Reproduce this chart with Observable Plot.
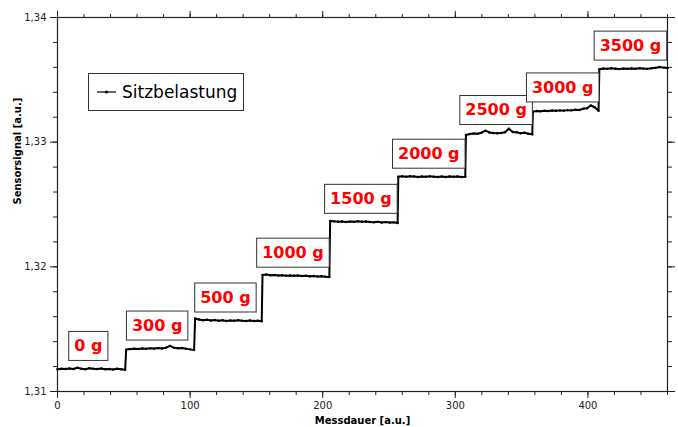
<!DOCTYPE html>
<html><head><meta charset="utf-8">
<script src="https://cdn.jsdelivr.net/npm/d3@7"></script>
<script src="https://cdn.jsdelivr.net/npm/@observablehq/plot@0.6"></script>
<style>
body{margin:0;background:#fff;}
#chart{position:relative;width:678px;height:427px;overflow:hidden;}
</style>
</head><body><div id="chart"></div>
<script>
// ---- data ----
const loads = ["0 g", "300 g", "500 g", "1000 g", "1500 g", "2000 g", "2500 g", "3000 g", "3500 g"];
const segStart = [0, 51.8, 103.8, 154.6, 205.6, 257, 308, 358.5, 408.6];
const segEnd   = [51, 103, 154, 205, 256.5, 307.5, 358, 408, 460];
const seg0g    = [1.31178, 1.31182, 1.31180, 1.31185, 1.31181, 1.31190, 1.31183, 1.31179, 1.31186, 1.31182, 1.31180, 1.31184, 1.31178, 1.31181, 1.31176, 1.31183, 1.31179, 1.31174];
const seg300g  = [1.31336, 1.31340, 1.31343, 1.31341, 1.31345, 1.31342, 1.31346, 1.31344, 1.31348, 1.31345, 1.31352, 1.31366, 1.31350, 1.31347, 1.31349, 1.31343, 1.31338, 1.31332];
const seg500g  = [1.31585, 1.31578, 1.31572, 1.31575, 1.31570, 1.31573, 1.31568, 1.31571, 1.31566, 1.31570, 1.31567, 1.31572, 1.31568, 1.31565, 1.31569, 1.31566, 1.31568, 1.31563];
const seg1000g = [1.31935, 1.31938, 1.31932, 1.31934, 1.31930, 1.31933, 1.31929, 1.31931, 1.31928, 1.31930, 1.31926, 1.31929, 1.31924, 1.31927, 1.31922, 1.31925, 1.31920, 1.31918];
const seg1500g = [1.32368, 1.32365, 1.32362, 1.32364, 1.32360, 1.32363, 1.32361, 1.32365, 1.32362, 1.32364, 1.32360, 1.32358, 1.32361, 1.32356, 1.32359, 1.32355, 1.32357, 1.32352];
const seg2000g = [1.32722, 1.32726, 1.32723, 1.32727, 1.32724, 1.32721, 1.32725, 1.32722, 1.32726, 1.32723, 1.32720, 1.32724, 1.32721, 1.32725, 1.32722, 1.32724, 1.32720, 1.32723];
const seg2500g = [1.33058, 1.33065, 1.33070, 1.33068, 1.33076, 1.33092, 1.33078, 1.33074, 1.33071, 1.33073, 1.33080, 1.33108, 1.33082, 1.33079, 1.33072, 1.33076, 1.33068, 1.33064];
const seg3000g = [1.33245, 1.33250, 1.33248, 1.33252, 1.33250, 1.33254, 1.33252, 1.33255, 1.33253, 1.33257, 1.33255, 1.33260, 1.33258, 1.33268, 1.33272, 1.33294, 1.33280, 1.33252];
const seg3500g = [1.33585, 1.33590, 1.33588, 1.33592, 1.33589, 1.33586, 1.33590, 1.33588, 1.33591, 1.33589, 1.33593, 1.33590, 1.33588, 1.33592, 1.33596, 1.33603, 1.33598, 1.33594];
const segments = [seg0g, seg300g, seg500g, seg1000g, seg1500g, seg2000g, seg2500g, seg3000g, seg3500g];
const xTicks = [0, 100, 200, 300, 400];
const xMinor = [0,20,40,60,80,100,120,140,160,180,200,220,240,260,280,300,320,340,360,380,400,420,440,460];
const yTicks = [1.31, 1.32, 1.33, 1.34];
const yMinor = [1.31,1.312,1.314,1.316,1.318,1.32,1.322,1.324,1.326,1.328,1.33,1.332,1.334,1.336,1.338,1.34];
const seriesName = "Sitzbelastung";
const xLabel = "Messdauer [a.u.]";
const yLabel = "Sensorsignal [a.u.]";

// ---- build table ----
const points = segments.flatMap((vals, s) => vals.map((v, i) => ({
  t: segStart[s] + i * (segEnd[s] - segStart[s]) / (vals.length - 1), v
})));
const labels = loads.map((name, s) => ({name, t: (segStart[s] + segEnd[s]) / 2, v: d3.median(segments[s])}));
const fmt = d => d.toFixed(2).replace(".", ",");
const ink = "#222";
const labelRed = "#ff0000";
const NS = "http://www.w3.org/2000/svg";
const LDX = -3, LDY = -23;

// measure label widths with a canvas (no DOM needed)
const ctx = document.createElement("canvas").getContext("2d");
ctx.font = "bold 16px 'DejaVu Sans'";
let boxesDrawn = 0;
function addBox(x, y, w) {
  const r = document.createElementNS(NS, "rect");
  r.setAttribute("x", x - w / 2 - 5.5);
  r.setAttribute("y", y - 14.5);
  r.setAttribute("width", w + 11);
  r.setAttribute("height", 29);
  r.setAttribute("fill", "#fff");
  r.setAttribute("stroke", "#333");
  r.setAttribute("stroke-width", 1);
  return r;
}

const plot = Plot.plot({
  width: 678, height: 427,
  marginLeft: 57, marginRight: 11, marginTop: 17, marginBottom: 36,
  style: {fontFamily: "DejaVu Sans", fontSize: "10px", color: ink, background: "#fff", overflow: "hidden"},
  x: {domain: [0, 460], label: null},
  y: {domain: [1.31, 1.34], label: null},
  marks: [
    Plot.axisX(xMinor, {anchor: "bottom", tickSize: 4, tickFormat: () => "", label: null, stroke: ink}),
    Plot.axisX(xTicks, {anchor: "bottom", tickSize: 7, tickPadding: 3, tickFormat: d => String(d), label: null, stroke: ink}),
    Plot.axisX(xMinor, {anchor: "top", tickSize: 4, tickFormat: () => "", label: null, stroke: ink}),
    Plot.axisX(xTicks, {anchor: "top", tickSize: 7, tickFormat: () => "", label: null, stroke: ink}),
    Plot.axisY(yMinor, {anchor: "left", tickSize: 4, tickFormat: () => "", label: null, stroke: ink}),
    Plot.axisY(yTicks, {anchor: "left", tickSize: 7, tickPadding: 4, tickFormat: fmt, label: null, stroke: ink}),
    Plot.axisY(yMinor, {anchor: "right", tickSize: 4, tickFormat: () => "", label: null, stroke: ink}),
    Plot.axisY(yTicks, {anchor: "right", tickSize: 7, tickFormat: () => "", label: null, stroke: ink}),
    Plot.frame({stroke: ink, strokeWidth: 1.2}),
    Plot.line(points, {x: "t", y: "v", stroke: "#000", strokeWidth: 2}),
    Plot.dot(points, {x: "t", y: "v", r: 1.2, fill: "#000", stroke: null}),
    Plot.text(labels, {
      x: "t", y: "v", text: "name", dx: LDX, dy: LDY, fill: labelRed, fontWeight: "bold", fontSize: 16,
      render(index, scales, values, dimensions, context, next) {
        const g = next(index, scales, values, dimensions, context);
        const texts = g.querySelectorAll("text");
        Array.from(index).forEach((i, k) => {
          const w = ctx.measureText(labels[i].name).width;
          const r = addBox(values.x[i], values.y[i], w);
          const t = texts[k];
          if (t) t.parentNode.insertBefore(r, t); else g.insertBefore(r, g.firstChild);
          boxesDrawn++;
        });
        return g;
      }
    }),
    Plot.text([xLabel], {frameAnchor: "bottom", dy: 25, lineAnchor: "top", fontWeight: "bold", fontSize: 10, fill: "#000"}),
    Plot.text([yLabel], {frameAnchor: "left", dx: -40, rotate: -90, fontWeight: "bold", fontSize: 10, fill: "#000"})
  ]
});
document.getElementById("chart").appendChild(plot);
const svg = plot.tagName.toLowerCase() === "svg" ? plot : plot.querySelector("svg");

// fallback if render option is unsupported: add boxes after the fact
if (boxesDrawn === 0) {
  const sx = plot.scale("x"), sy = plot.scale("y");
  const gBox = document.createElementNS(NS, "g");
  labels.forEach(d => {
    const w = ctx.measureText(d.name).width;
    gBox.appendChild(addBox(sx.apply(d.t) + LDX, sy.apply(d.v) + LDY, w));
  });
  const redText = Array.from(svg.querySelectorAll("g")).find(g => g.getAttribute("fill") === labelRed);
  if (redText) svg.insertBefore(gBox, redText); else svg.appendChild(gBox);
}

// legend box (inside plot area)
const lg = document.createElementNS(NS, "g");
lg.innerHTML = `<rect x="88.5" y="73.5" width="155" height="37" fill="#fff" stroke="#333" stroke-width="1"/>
<line x1="97" x2="116" y1="92" y2="92" stroke="#000" stroke-width="1.2"/>
<circle cx="106.5" cy="92" r="1.6" fill="#000"/>
<text x="122" y="92" dy="0.35em" text-anchor="start" font-family="DejaVu Sans" font-size="17" fill="#000"></text>`;
lg.querySelector("text").textContent = seriesName;
svg.appendChild(lg);
</script>
</body></html>
